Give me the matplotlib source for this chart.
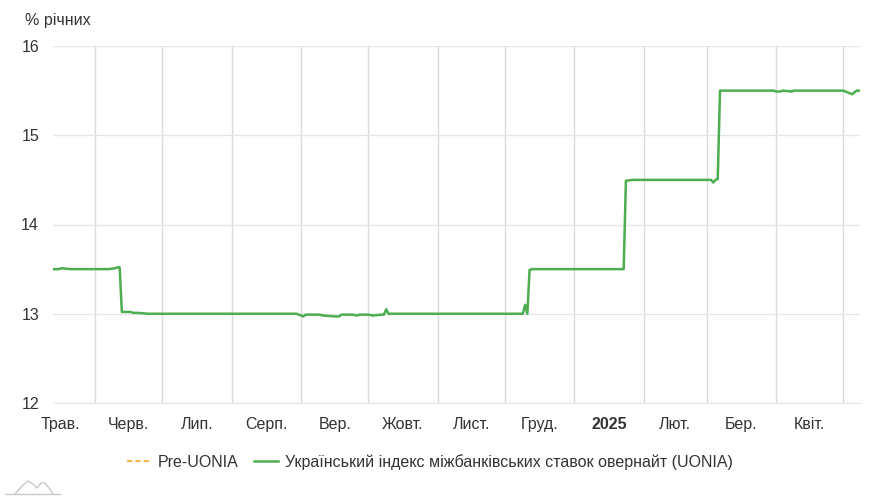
import pandas as pd
import matplotlib
matplotlib.use("Agg")
import matplotlib.pyplot as plt
from matplotlib.lines import Line2D

plt.rcParams['font.family'] = ['Liberation Sans', 'DejaVu Sans']

# UONIA, % річних
uonia_dates = [
    "2024-05-13", "2024-05-16", "2024-05-17", "2024-05-21", "2024-06-07",
    "2024-06-10", "2024-06-11", "2024-06-12", "2024-06-13", "2024-06-17",
    "2024-06-18", "2024-06-20", "2024-06-25", "2024-08-30", "2024-09-02",
    "2024-09-03", "2024-09-09", "2024-09-11", "2024-09-16", "2024-09-18",
    "2024-09-19", "2024-09-24", "2024-09-26", "2024-09-27", "2024-10-01",
    "2024-10-03", "2024-10-07", "2024-10-08", "2024-10-09", "2024-10-10",
    "2024-12-09", "2024-12-10", "2024-12-11", "2024-12-12", "2024-12-13",
    "2025-01-23", "2025-01-24", "2025-01-27", "2025-03-03", "2025-03-04",
    "2025-03-05", "2025-03-06", "2025-03-07", "2025-03-31", "2025-04-01",
    "2025-04-03", "2025-04-04", "2025-04-08", "2025-04-09", "2025-05-01",
    "2025-05-02", "2025-05-05", "2025-05-06", "2025-05-07", "2025-05-08",
]
uonia_values = [
    13.50, 13.50, 13.51, 13.50, 13.50,
    13.51, 13.52, 13.52, 13.02, 13.02,
    13.01, 13.01, 13.00, 13.00, 12.97,
    12.99, 12.99, 12.98, 12.97, 12.97,
    12.99, 12.99, 12.98, 12.99, 12.99,
    12.98, 12.99, 12.99, 13.05, 13.00,
    13.00, 13.10, 13.00, 13.49, 13.50,
    13.50, 14.49, 14.50, 14.50, 14.47,
    14.50, 14.51, 15.50, 15.50, 15.49,
    15.49, 15.50, 15.49, 15.50, 15.50,
    15.49, 15.46, 15.48, 15.50, 15.50,
]

# Pre-UONIA: на цьому проміжку даних немає
pre_dates = []
pre_values = []

month_starts = pd.date_range("2024-05-01", "2025-05-01", freq="MS")
month_labels = ["Трав.", "Черв.", "Лип.", "Серп.", "Вер.", "Жовт.",
                "Лист.", "Груд.", "2025", "Лют.", "Бер.", "Квіт."]
y_ticks = [12, 13, 14, 15, 16]

green = '#4cae4f'
orange = '#f8b547'
text_col = '#333333'

fig = plt.figure(figsize=(8.91, 5.0), dpi=100)
ax = fig.add_axes([53 / 891, 1 - 403 / 500, (860 - 53) / 891, (403 - 46) / 500])

ax.plot(pd.to_datetime(pre_dates), pre_values, color=orange, lw=1.5,
        ls=(0, (2.5, 1.5)), label='Pre-UONIA')
ax.plot(pd.to_datetime(uonia_dates), uonia_values, color=green, lw=1.8,
        label='Український індекс міжбанківських ставок овернайт (UONIA)')

ax.set_xlim(pd.Timestamp("2024-05-13 06:00"), pd.Timestamp("2025-05-08 12:00"))
ax.set_ylim(12, 16)

# сітка: горизонтальні лінії на рівнях, вертикальні на початках місяців
ax.set_yticks(y_ticks)
ax.set_yticklabels([str(v) for v in y_ticks])
ax.set_xticks(month_starts[1:])
ax.set_xticklabels([])
ax.grid(axis='y', color='#e6e6e6', lw=1)
ax.grid(axis='x', color='#dcdcdc', lw=1)
ax.set_axisbelow(True)

# підписи місяців по центру місяця
mids = [month_starts[i] + (month_starts[i + 1] - month_starts[i]) / 2
        for i in range(len(month_labels))]
ax.set_xticks(mids, minor=True)
ax.set_xticklabels(month_labels, minor=True)
for lbl in ax.get_xticklabels(minor=True):
    if lbl.get_text() == "2025":
        lbl.set_fontweight('bold')

ax.tick_params(axis='x', which='both', length=0, pad=10, labelsize=11.5,
               labelcolor=text_col)
ax.tick_params(axis='y', length=0, pad=10, labelsize=11.5, labelcolor=text_col)

for side in ['top', 'right', 'left']:
    ax.spines[side].set_visible(False)
ax.spines['bottom'].set_color('#e6e6e6')

fig.text(25 / 891, 1 - 21 / 500, "% річних", fontsize=11.5, color=text_col,
         va='center', ha='left')

fig.legend(loc='center', bbox_to_anchor=(430 / 891, 1 - 462 / 500), ncol=2,
           frameon=False, fontsize=11.5, handlelength=1.45, columnspacing=1.0,
           handletextpad=0.45, labelcolor=text_col)

# маленький логотип внизу ліворуч
W, H = 891, 500
logo_x = [15, 22, 28, 33, 37, 41, 45, 49, 53]
logo_y = [494, 486, 481, 484, 488, 483, 483, 488, 494]
fig.add_artist(Line2D([x / W for x in logo_x], [1 - y / H for y in logo_y],
                      color='#c8c8c8', lw=1))
fig.add_artist(Line2D([5 / W, 60 / W], [1 - 494 / H, 1 - 494 / H],
                      color='#c8c8c8', lw=1))

fig.savefig("out.png", dpi=100)
